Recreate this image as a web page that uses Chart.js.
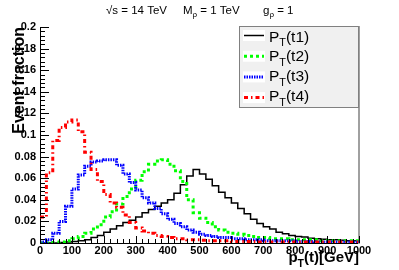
<!DOCTYPE html>
<html>
<head>
<meta charset="utf-8">
<script src="https://cdn.jsdelivr.net/npm/chart.js@4.4.1/dist/chart.umd.min.js"></script>
<style>
  html, body { margin: 0; padding: 0; background: #fff; }
  #chart-container { display: block; }
</style>
</head>
<body>
<canvas id="chart-container" width="399" height="270"></canvas>
<script>
// histogram bin edges, GeV (20 GeV bins)
const bin_edges = [0, 20, 40, 60, 80, 100, 120, 140, 160, 180,
    200, 220, 240, 260, 280, 300, 320, 340, 360, 380,
    400, 420, 440, 460, 480, 500, 520, 540, 560, 580,
    600, 620, 640, 660, 680, 700, 720, 740, 760, 780,
    800, 820, 840, 860, 880, 900, 920, 940, 960, 980, 1000];

// event fraction per bin
const pt_t1 = [0, 0, 0, 0.0005, 0.001, 0.0015, 0.002, 0.003, 0.005, 0.007,
    0.010, 0.013, 0.016, 0.019, 0.021, 0.024, 0.028, 0.031, 0.034, 0.037,
    0.040, 0.046, 0.054, 0.062, 0.068, 0.064, 0.059, 0.053, 0.047, 0.042,
    0.037, 0.032, 0.027, 0.022, 0.018, 0.015, 0.013, 0.010, 0.0085, 0.007,
    0.006, 0.0055, 0.0045, 0.004, 0.0035, 0.003, 0.003, 0.0025, 0.002, 0.002];
const pt_t2 = [0, 0, 0.0005, 0.001, 0.002, 0.004, 0.006, 0.009, 0.013, 0.017,
    0.024, 0.029, 0.036, 0.043, 0.050, 0.058, 0.066, 0.073, 0.076, 0.077,
    0.073, 0.067, 0.057, 0.040, 0.028, 0.023, 0.019, 0.015, 0.012, 0.010,
    0.009, 0.008, 0.007, 0.006, 0.005, 0.005, 0.004, 0.004, 0.004, 0.003,
    0.003, 0.003, 0.003, 0.003, 0.002, 0.002, 0.002, 0.002, 0.002, 0.002];
const pt_t3 = [0.001, 0.003, 0.009, 0.020, 0.034, 0.050, 0.063, 0.071, 0.075, 0.076,
    0.077, 0.077, 0.072, 0.064, 0.056, 0.049, 0.042, 0.037, 0.032, 0.027,
    0.022, 0.018, 0.015, 0.012, 0.010, 0.008, 0.007, 0.006, 0.005, 0.005,
    0.004, 0.004, 0.003, 0.003, 0.003, 0.002, 0.002, 0.002, 0.002, 0.002,
    0.0015, 0.0015, 0.0015, 0.001, 0.001, 0.001, 0.001, 0.001, 0.001, 0.001];
const pt_t4 = [0.024, 0.065, 0.095, 0.107, 0.112, 0.114, 0.103, 0.084, 0.068, 0.057,
    0.045, 0.037, 0.033, 0.026, 0.019, 0.014, 0.011, 0.009, 0.007, 0.006,
    0.005, 0.004, 0.004, 0.003, 0.003, 0.0025, 0.002, 0.002, 0.002, 0.002,
    0.0015, 0.0015, 0.0015, 0.0015, 0.001, 0.001, 0.001, 0.001, 0.001, 0.001,
    0.001, 0.001, 0.001, 0.001, 0.001, 0.001, 0.001, 0.001, 0.001, 0.001];

const x_ticks = [0, 100, 200, 300, 400, 500, 600, 700, 800, 900, 1000];
const y_ticks = [0, 0.02, 0.04, 0.06, 0.08, 0.1, 0.12, 0.14, 0.16, 0.18, 0.2];
const legend_labels = ["t1", "t2", "t3", "t4"];

const FONT = '"Liberation Sans", Arial, sans-serif';

// histogram outline: value held from low edge to next edge
function hist_points(vals) {
    let pts = vals.map((v, i) => ({x: bin_edges[i], y: v}));
    pts.push({x: bin_edges[vals.length], y: vals[vals.length - 1]});
    return pts;
}

// text with subscripts, segs = [[text, isSub], ...]
function rich_text(ctx, segs, x, y, size, weight, align) {
    const subSize = size * 0.7;
    let total = 0;
    for (let s of segs) {
        ctx.font = weight + ' ' + (s[1] ? subSize : size) + 'px ' + FONT;
        total += ctx.measureText(s[0]).width;
    }
    let cx = align == 'right' ? x - total : x;
    ctx.textAlign = 'left';
    ctx.textBaseline = 'alphabetic';
    for (let s of segs) {
        ctx.font = weight + ' ' + (s[1] ? subSize : size) + 'px ' + FONT;
        ctx.fillText(s[0], cx, s[1] ? y + size * 0.3 : y);
        cx += ctx.measureText(s[0]).width;
    }
}

const root_decor = {
    id: 'root_decor',
    afterDraw(chart) {
        const ctx = chart.ctx;
        const xs = chart.scales.x, ys = chart.scales.y;
        const area = chart.chartArea;
        ctx.save();
        ctx.strokeStyle = '#000';
        ctx.lineWidth = 1;
        // inward ticks on y
        ctx.beginPath();
        for (let i = 0; i <= 50; i++) {
            let v = i * 0.004;
            let py = Math.round(ys.getPixelForValue(v)) + 0.5;
            let len = (i % 5 == 0) ? 9 : 5;
            ctx.moveTo(area.left, py);
            ctx.lineTo(area.left + len, py);
        }
        // inward ticks on x
        for (let i = 0; i <= 50; i++) {
            let v = i * 20;
            let px = Math.round(xs.getPixelForValue(v)) + 0.5;
            let len = (i % 5 == 0) ? 7 : 4;
            ctx.moveTo(px, area.bottom);
            ctx.lineTo(px, area.bottom - len);
        }
        ctx.stroke();

        ctx.fillStyle = '#000';
        // header
        rich_text(ctx, [["\u221As = 14 TeV", false]], 106, 14, 11.5, 'normal', 'left');
        rich_text(ctx, [["M", false], ["\u03C1", true], [" = 1 TeV", false]], 183, 14, 11.5, 'normal', 'left');
        rich_text(ctx, [["g", false], ["\u03C1", true], [" = 1", false]], 263, 14, 11.5, 'normal', 'left');

        // x title
        rich_text(ctx, [["p", false], ["T", true], ["(t)[GeV]", false]], area.right, 262, 15, 'bold', 'right');

        // y title
        ctx.save();
        ctx.translate(24, area.top);
        ctx.rotate(-Math.PI / 2);
        ctx.font = 'bold 16px ' + FONT;
        ctx.textAlign = 'right';
        ctx.textBaseline = 'alphabetic';
        ctx.fillText('Event fraction', 0, 0);
        ctx.restore();

        // legend box
        const lx = 239.5, ly = 26.5, lw = 119, lh = 81;
        ctx.fillStyle = '#f0f0f0';
        ctx.fillRect(lx, ly, lw, lh);
        ctx.strokeStyle = '#808080';
        ctx.lineWidth = 1;
        ctx.strokeRect(lx, ly, lw, lh);
        chart.data.datasets.forEach((ds, i) => {
            const cy = 35.5 + i * 20.7;
            ctx.fillStyle = '#fff';
            ctx.fillRect(243, cy - 5.5, 22, 11);
            ctx.save();
            ctx.strokeStyle = ds.borderColor;
            ctx.lineWidth = ds.borderWidth;
            ctx.setLineDash(ds.borderDash || []);
            ctx.beginPath();
            ctx.moveTo(244, cy);
            ctx.lineTo(264, cy);
            ctx.stroke();
            ctx.restore();
            ctx.fillStyle = '#000';
            rich_text(ctx, [["P", false], ["T", true], ["(" + legend_labels[i] + ")", false]],
                269, 41.5 + i * 19.9, 15.5, 'normal', 'left');
        });
        ctx.restore();
    }
};

function build_chart() {
    const canv = document.querySelector('#chart-container');
    const tick_font = {family: FONT, size: 11, weight: 'bold'};
    new Chart(canv, {
        type: 'line',
        data: {
            datasets: [
                {
                    label: 'PT(t1)',
                    data: hist_points(pt_t1),
                    borderColor: '#000000',
                    borderWidth: 1.5,
                    order: 4
                },
                {
                    label: 'PT(t2)',
                    data: hist_points(pt_t2),
                    borderColor: '#00ff00',
                    borderWidth: 3,
                    borderDash: [3, 3],
                    order: 3
                },
                {
                    label: 'PT(t3)',
                    data: hist_points(pt_t3),
                    borderColor: '#0000ff',
                    borderWidth: 3,
                    borderDash: [1.5, 1],
                    order: 2
                },
                {
                    label: 'PT(t4)',
                    data: hist_points(pt_t4),
                    borderColor: '#ff0000',
                    borderWidth: 3,
                    borderDash: [4, 3, 1.5, 3],
                    order: 1
                }
            ]
        },
        options: {
            responsive: false,
            animation: false,
            layout: {padding: {top: 27, left: 0, right: 0, bottom: 0}},
            elements: {
                point: {radius: 0},
                line: {stepped: 'before', tension: 0, fill: false}
            },
            plugins: {
                legend: {display: false},
                tooltip: {enabled: false}
            },
            scales: {
                x: {
                    type: 'linear',
                    min: 0,
                    max: 1000,
                    afterBuildTicks: (s) => { s.ticks = x_ticks.map((v) => ({value: v})); },
                    ticks: {
                        color: '#000',
                        font: tick_font,
                        padding: 1,
                        maxRotation: 0,
                        autoSkip: false,
                        callback: (v) => String(v)
                    },
                    grid: {display: false, drawTicks: false},
                    border: {color: '#000', width: 1},
                    afterFit: (s) => { s.height = 27; }
                },
                y: {
                    min: 0,
                    max: 0.2,
                    afterBuildTicks: (s) => { s.ticks = y_ticks.map((v) => ({value: v})); },
                    ticks: {
                        color: '#000',
                        font: tick_font,
                        padding: 4,
                        callback: (v) => String(Number(v.toFixed(2)))
                    },
                    grid: {display: false, drawTicks: false},
                    border: {color: '#000', width: 1},
                    afterFit: (s) => { s.width = 40; }
                },
                y2: {
                    position: 'right',
                    min: 0,
                    max: 0.2,
                    ticks: {display: false},
                    grid: {display: false, drawTicks: false},
                    border: {color: '#a0a0a0', width: 2},
                    afterFit: (s) => { s.width = 40; }
                }
            }
        },
        plugins: [root_decor]
    });
}
build_chart();
</script>
</body>
</html>
